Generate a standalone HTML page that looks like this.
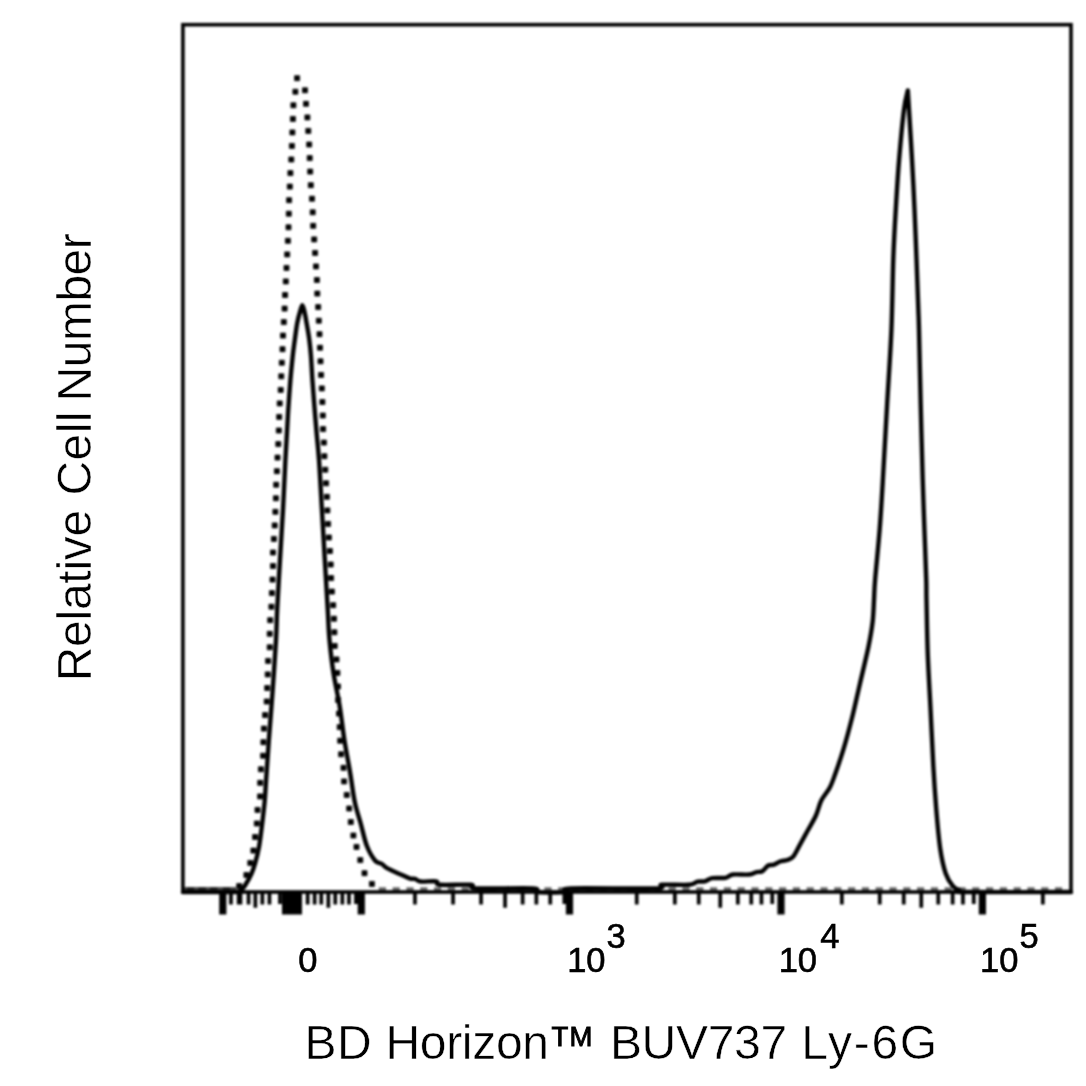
<!DOCTYPE html>
<html><head><meta charset="utf-8"><title>BD Horizon BUV737 Ly-6G</title>
<style>html,body{margin:0;padding:0;background:#fff;font-family:"Liberation Sans",sans-serif;}svg{display:block}</style>
</head><body>
<svg width="1086" height="1086" viewBox="0 0 1086 1086">
<defs><filter id="b" x="-2%" y="-2%" width="104%" height="104%"><feGaussianBlur stdDeviation="1.0"/></filter><filter id="t" x="-5%" y="-5%" width="110%" height="110%"><feGaussianBlur stdDeviation="0.75"/></filter></defs>
<rect width="1086" height="1086" fill="#fff"/>
<g filter="url(#b)">
<rect x="182.9" y="24.7" width="888.1" height="867.3" fill="none" stroke="#000" stroke-width="3.6"/>
<path d="M219.2,892.0h7.2v22.6h-7.2zM357.7,892.0h7.2v22.6h-7.2zM565.9,892.0h7.2v22.6h-7.2zM777.4,892.0h7.2v22.6h-7.2zM978.8,892.0h7.2v22.6h-7.2zM282.0,892.0h20.0v22.6h-20.0zM229.1,892.0h3.7v12.5h-3.7zM246.7,892.0h3.7v12.5h-3.7zM260.5,892.0h3.7v12.5h-3.7zM267.6,892.0h3.7v12.5h-3.7zM305.8,892.0h3.7v12.5h-3.7zM312.8,892.0h3.7v12.5h-3.7zM319.4,892.0h3.7v12.5h-3.7zM333.4,892.0h3.7v12.5h-3.7zM340.5,892.0h3.7v12.5h-3.7zM347.1,892.0h3.7v12.5h-3.7zM413.1,892.0h3.7v12.5h-3.7zM451.2,892.0h3.7v12.5h-3.7zM479.2,892.0h3.7v12.5h-3.7zM520.8,892.0h3.7v12.5h-3.7zM534.5,892.0h3.7v12.5h-3.7zM548.4,892.0h3.7v12.5h-3.7zM634.9,892.0h3.7v12.5h-3.7zM673.0,892.0h3.7v12.5h-3.7zM696.9,892.0h3.7v12.5h-3.7zM736.0,892.0h3.7v12.5h-3.7zM749.4,892.0h3.7v12.5h-3.7zM759.6,892.0h3.7v12.5h-3.7zM840.0,892.0h3.7v12.5h-3.7zM877.9,892.0h3.7v12.5h-3.7zM901.9,892.0h3.7v12.5h-3.7zM936.4,892.0h3.7v12.5h-3.7zM950.8,892.0h3.7v12.5h-3.7zM961.1,892.0h3.7v12.5h-3.7zM1041.0,892.0h3.7v12.5h-3.7zM236.8,892.0h5.5v12.5h-5.5zM253.5,892.0h3.7v15.8h-3.7zM326.5,892.0h3.7v15.8h-3.7zM503.2,892.0h3.7v15.8h-3.7zM718.4,892.0h3.7v15.8h-3.7zM919.4,892.0h3.7v15.8h-3.7zM354.1,892.0h3.7v12.0h-3.7zM562.5,892.0h3.7v12.0h-3.7zM770.4,892.0h3.7v12.0h-3.7zM971.9,892.0h3.7v12.0h-3.7zM278.1,892.0h3.7v12.0h-3.7z" fill="#000"/>
<path d="M183.0,892.0 C191.2,892.0 222.6,892.2 232.0,892.0 C241.4,891.8 237.8,891.6 239.5,891.0 C241.2,890.4 241.5,889.5 242.5,888.5 C243.5,887.5 243.8,887.4 245.3,885.0 C246.8,882.6 249.8,877.6 251.4,873.9 C253.1,870.2 253.9,867.5 255.2,862.9 C256.5,858.3 258.0,852.8 259.1,846.3 C260.2,839.8 261.2,831.6 262.1,824.2 C263.0,816.8 263.9,809.5 264.6,802.1 C265.3,794.7 265.4,790.4 266.1,780.0 C266.8,769.6 267.8,754.5 268.9,739.5 C270.0,724.5 271.5,706.3 272.7,689.7 C273.9,673.1 275.2,653.4 276.0,640.0 C276.8,626.6 276.5,622.6 277.2,609.2 C277.9,595.8 279.0,576.1 280.0,559.5 C281.0,542.9 282.1,526.3 283.0,509.7 C283.9,493.1 284.7,472.9 285.4,460.0 C286.1,447.1 286.5,440.7 287.0,432.0 C287.5,423.3 287.8,416.3 288.4,407.6 C289.0,398.9 289.7,388.6 290.4,380.0 C291.1,371.4 292.0,363.0 292.7,356.3 C293.4,349.6 294.1,345.2 294.8,339.7 C295.6,334.2 296.3,328.0 297.2,323.1 C298.1,318.2 299.5,313.5 300.4,310.5 C301.2,307.5 301.7,305.2 302.3,305.2 C302.9,305.2 303.5,307.5 304.2,310.5 C304.9,313.5 305.8,318.2 306.6,323.1 C307.5,328.0 308.6,334.2 309.3,339.7 C310.0,345.2 310.5,349.6 311.0,356.3 C311.5,363.0 311.8,371.4 312.4,380.0 C313.0,388.6 313.8,398.4 314.5,407.6 C315.2,416.8 316.1,426.5 316.8,435.2 C317.6,443.9 318.1,447.6 319.0,460.0 C319.9,472.4 320.9,493.1 321.9,509.7 C322.9,526.3 323.8,542.9 324.8,559.5 C325.8,576.1 326.9,595.8 327.7,609.2 C328.5,622.6 328.5,629.3 329.5,640.0 C330.5,650.7 331.8,662.2 333.5,673.2 C335.2,684.2 337.9,695.2 339.7,706.3 C341.5,717.3 342.6,728.5 344.3,739.5 C346.0,750.5 348.4,762.2 350.1,772.6 C351.9,783.0 353.0,793.5 354.8,802.1 C356.6,810.7 358.9,816.8 360.9,824.2 C362.9,831.6 364.6,840.2 367.0,846.3 C369.4,852.4 372.7,857.8 375.2,860.7 C377.7,863.7 379.9,862.7 381.9,864.0 C383.9,865.3 384.4,866.8 387.4,868.4 C390.3,870.0 395.9,872.2 399.6,873.9 C403.3,875.5 406.9,877.5 409.5,878.3 C412.1,879.1 413.1,878.4 415.0,878.9 C416.9,879.4 417.1,881.1 420.6,881.5 C424.1,881.9 432.8,880.8 436.0,881.3 C439.2,881.8 434.2,884.2 440.0,884.8 C445.8,885.4 465.0,884.2 471.0,884.8 C477.0,885.4 465.7,887.8 476.0,888.4 C486.3,889.0 522.8,887.8 533.0,888.4 C543.2,889.0 531.5,891.4 537.0,892.0 C542.5,892.6 560.3,892.6 566.0,892.0 C571.7,891.4 556.2,889.0 571.0,888.4 C585.8,887.8 639.8,889.0 655.0,888.4 C670.2,887.8 656.4,885.4 662.0,884.8 C667.6,884.2 682.7,885.3 688.6,884.8 C694.5,884.3 694.8,882.3 697.5,881.7 C700.2,881.1 702.3,881.9 704.8,881.3 C707.2,880.7 708.8,878.8 712.2,878.2 C715.7,877.6 722.1,878.4 725.5,877.8 C728.9,877.2 728.9,875.0 732.8,874.5 C736.7,874.0 745.1,874.9 749.0,874.5 C752.9,874.1 754.2,872.6 756.4,872.1 C758.6,871.6 760.3,872.4 762.3,871.3 C764.3,870.2 766.2,866.6 768.2,865.5 C770.2,864.4 772.1,865.4 774.1,864.7 C776.1,864.0 777.8,862.3 780.0,861.5 C782.2,860.7 785.1,860.8 787.3,860.0 C789.5,859.2 791.2,859.0 793.2,856.6 C795.2,854.2 796.9,850.2 799.3,845.9 C801.7,841.6 804.8,835.8 807.6,830.7 C810.4,825.6 813.6,820.6 815.9,815.5 C818.2,810.4 819.1,804.9 821.4,800.3 C823.7,795.7 827.4,792.2 829.7,787.8 C832.0,783.4 832.9,780.4 835.2,774.0 C837.5,767.6 840.7,758.4 843.5,749.2 C846.3,740.0 849.0,729.8 851.8,718.8 C854.6,707.8 857.3,694.9 860.1,682.9 C862.9,670.9 866.3,657.1 868.4,647.0 C870.5,636.9 871.7,629.9 872.6,622.1 C873.5,614.3 873.6,607.2 874.0,600.0 C874.4,592.8 874.2,590.5 875.2,578.6 C876.2,566.8 878.4,545.5 879.7,528.9 C881.0,512.3 881.7,499.9 882.9,479.2 C884.1,458.5 885.7,429.5 887.1,404.6 C888.5,379.7 890.4,354.3 891.4,330.0 C892.4,305.7 892.6,279.0 893.3,258.9 C894.0,238.8 894.8,225.8 895.8,209.2 C896.8,192.6 897.7,176.1 899.1,159.5 C900.5,142.9 902.5,121.2 904.0,109.7 C905.5,98.2 907.2,93.7 907.8,90.5 M907.8,90.5 C908.0,93.7 908.3,98.2 909.0,109.7 C909.7,121.2 911.1,142.9 912.0,159.5 C912.9,176.1 913.8,192.6 914.5,209.2 C915.2,225.8 915.9,242.3 916.5,258.9 C917.1,275.5 917.9,296.8 918.3,308.6 C918.7,320.5 918.6,314.0 919.0,330.0 C919.4,346.0 920.1,379.7 920.7,404.6 C921.3,429.5 922.1,458.5 922.7,479.2 C923.3,499.9 923.8,512.3 924.4,528.9 C925.0,545.5 925.9,566.8 926.2,578.6 C926.6,590.5 926.2,587.2 926.5,600.0 C926.8,612.8 927.1,636.8 927.8,655.2 C928.5,673.6 929.7,692.1 930.6,710.5 C931.5,728.9 932.4,749.6 933.3,765.7 C934.2,781.8 935.0,793.4 936.1,807.2 C937.2,821.0 938.6,837.6 940.2,848.6 C941.8,859.6 943.6,867.3 945.7,873.5 C947.8,879.7 950.4,883.1 952.7,885.9 C955.0,888.7 957.4,889.5 959.6,890.5 C961.8,891.5 947.4,891.8 966.0,892.0 C984.6,892.2 1053.5,892.0 1071.0,892.0" fill="none" stroke="#000" stroke-width="4.4" stroke-linejoin="miter" stroke-miterlimit="10" stroke-linecap="round"/>
<path d="M294.6,75.7h5.0v5.0h-5.0zM292.9,89.2h5.0v5.0h-5.0zM290.9,102.8h5.0v5.0h-5.0zM290.4,116.4h5.0v5.0h-5.0zM289.9,129.9h5.0v5.0h-5.0zM289.4,143.4h5.0v5.0h-5.0zM288.8,157.0h5.0v5.0h-5.0zM287.9,170.6h5.0v5.0h-5.0zM287.3,184.1h5.0v5.0h-5.0zM286.6,197.7h5.0v5.0h-5.0zM286.3,211.2h5.0v5.0h-5.0zM286.0,224.8h5.0v5.0h-5.0zM285.4,238.3h5.0v5.0h-5.0zM284.7,251.9h5.0v5.0h-5.0zM284.0,265.4h5.0v5.0h-5.0zM283.3,278.9h5.0v5.0h-5.0zM282.6,292.5h5.0v5.0h-5.0zM282.1,306.1h5.0v5.0h-5.0zM281.3,319.6h5.0v5.0h-5.0zM280.5,333.1h5.0v5.0h-5.0zM280.0,346.7h5.0v5.0h-5.0zM279.3,360.2h5.0v5.0h-5.0zM278.8,373.8h5.0v5.0h-5.0zM278.2,387.4h5.0v5.0h-5.0zM277.2,400.9h5.0v5.0h-5.0zM276.7,414.4h5.0v5.0h-5.0zM276.3,428.0h5.0v5.0h-5.0zM275.8,441.6h5.0v5.0h-5.0zM275.0,455.1h5.0v5.0h-5.0zM274.4,468.7h5.0v5.0h-5.0zM273.7,482.2h5.0v5.0h-5.0zM273.4,495.8h5.0v5.0h-5.0zM272.9,509.3h5.0v5.0h-5.0zM272.2,522.9h5.0v5.0h-5.0zM271.4,536.4h5.0v5.0h-5.0zM270.5,550.0h5.0v5.0h-5.0zM270.5,563.5h5.0v5.0h-5.0zM270.0,577.1h5.0v5.0h-5.0zM269.4,590.6h5.0v5.0h-5.0zM268.9,604.2h5.0v5.0h-5.0zM267.7,617.7h5.0v5.0h-5.0zM267.2,631.3h5.0v5.0h-5.0zM267.2,644.8h5.0v5.0h-5.0zM265.6,658.4h5.0v5.0h-5.0zM265.2,671.9h5.0v5.0h-5.0zM264.7,685.5h5.0v5.0h-5.0zM264.2,699.0h5.0v5.0h-5.0zM262.6,712.6h5.0v5.0h-5.0zM261.4,726.1h5.0v5.0h-5.0zM260.9,739.7h5.0v5.0h-5.0zM260.6,753.2h5.0v5.0h-5.0zM258.4,766.8h5.0v5.0h-5.0zM257.7,780.3h5.0v5.0h-5.0zM257.6,793.9h5.0v5.0h-5.0zM255.0,807.4h5.0v5.0h-5.0zM254.3,821.0h5.0v5.0h-5.0zM252.6,834.5h5.0v5.0h-5.0zM250.9,848.1h5.0v5.0h-5.0zM247.8,860.4h5.0v5.0h-5.0zM243.9,872.5h5.0v5.0h-5.0zM236.7,883.6h5.0v5.0h-5.0zM302.5,87.8h5.0v5.0h-5.0zM303.5,101.3h5.0v5.0h-5.0zM304.9,114.9h5.0v5.0h-5.0zM305.8,128.4h5.0v5.0h-5.0zM306.7,142.0h5.0v5.0h-5.0zM307.2,155.6h5.0v5.0h-5.0zM307.7,169.1h5.0v5.0h-5.0zM308.3,182.7h5.0v5.0h-5.0zM309.5,196.2h5.0v5.0h-5.0zM310.2,209.8h5.0v5.0h-5.0zM310.7,223.3h5.0v5.0h-5.0zM311.7,236.9h5.0v5.0h-5.0zM312.6,250.4h5.0v5.0h-5.0zM313.5,263.9h5.0v5.0h-5.0zM314.4,277.5h5.0v5.0h-5.0zM314.8,291.1h5.0v5.0h-5.0zM315.7,304.6h5.0v5.0h-5.0zM316.3,318.2h5.0v5.0h-5.0zM317.0,331.7h5.0v5.0h-5.0zM317.5,345.2h5.0v5.0h-5.0zM318.0,358.8h5.0v5.0h-5.0zM318.6,372.4h5.0v5.0h-5.0zM319.3,385.9h5.0v5.0h-5.0zM319.9,399.5h5.0v5.0h-5.0zM320.3,413.0h5.0v5.0h-5.0zM320.6,426.6h5.0v5.0h-5.0zM321.4,440.1h5.0v5.0h-5.0zM321.9,453.7h5.0v5.0h-5.0zM322.8,467.2h5.0v5.0h-5.0zM323.6,480.8h5.0v5.0h-5.0zM324.4,494.3h5.0v5.0h-5.0zM324.9,507.9h5.0v5.0h-5.0zM325.6,521.4h5.0v5.0h-5.0zM326.4,535.0h5.0v5.0h-5.0zM327.4,548.5h5.0v5.0h-5.0zM328.2,562.0h5.0v5.0h-5.0zM328.6,575.6h5.0v5.0h-5.0zM329.4,589.1h5.0v5.0h-5.0zM330.7,602.7h5.0v5.0h-5.0zM331.5,616.2h5.0v5.0h-5.0zM331.9,629.8h5.0v5.0h-5.0zM332.2,643.4h5.0v5.0h-5.0zM334.0,656.9h5.0v5.0h-5.0zM334.9,670.4h5.0v5.0h-5.0zM335.5,684.0h5.0v5.0h-5.0zM335.6,697.5h5.0v5.0h-5.0zM336.5,711.1h5.0v5.0h-5.0zM337.2,724.6h5.0v5.0h-5.0zM337.7,738.2h5.0v5.0h-5.0zM338.6,751.8h5.0v5.0h-5.0zM341.0,765.3h5.0v5.0h-5.0zM341.6,778.9h5.0v5.0h-5.0zM344.2,792.4h5.0v5.0h-5.0zM346.7,806.0h5.0v5.0h-5.0zM348.3,819.5h5.0v5.0h-5.0zM350.9,833.0h5.0v5.0h-5.0zM354.0,844.4h5.0v5.0h-5.0zM357.8,857.6h5.0v5.0h-5.0zM362.0,870.7h5.0v5.0h-5.0zM369.4,881.4h5.0v5.0h-5.0z" fill="#000" stroke="#000" stroke-width="0.8" stroke-linejoin="round"/>
<path d="M378.8,887.2h7.2v4h-7.2zM392.6,887.2h7.2v4h-7.2zM406.4,887.2h7.2v4h-7.2zM420.2,887.2h7.2v4h-7.2zM434.0,887.2h7.2v4h-7.2zM447.8,887.2h7.2v4h-7.2zM461.6,887.2h7.2v4h-7.2zM475.4,887.2h7.2v4h-7.2zM489.2,887.2h7.2v4h-7.2zM503.0,887.2h7.2v4h-7.2zM516.8,887.2h7.2v4h-7.2zM530.6,887.2h7.2v4h-7.2zM544.4,887.2h7.2v4h-7.2zM558.2,887.2h7.2v4h-7.2zM572.0,887.2h7.2v4h-7.2zM585.8,887.2h7.2v4h-7.2zM599.6,887.2h7.2v4h-7.2zM613.4,887.2h7.2v4h-7.2zM627.2,887.2h7.2v4h-7.2zM641.0,887.2h7.2v4h-7.2zM654.8,887.2h7.2v4h-7.2zM668.6,887.2h7.2v4h-7.2zM682.4,887.2h7.2v4h-7.2zM696.2,887.2h7.2v4h-7.2zM710.0,887.2h7.2v4h-7.2zM723.8,887.2h7.2v4h-7.2zM737.6,887.2h7.2v4h-7.2zM751.4,887.2h7.2v4h-7.2zM765.2,887.2h7.2v4h-7.2zM779.0,887.2h7.2v4h-7.2zM792.8,887.2h7.2v4h-7.2zM806.6,887.2h7.2v4h-7.2zM820.4,887.2h7.2v4h-7.2zM834.2,887.2h7.2v4h-7.2zM848.0,887.2h7.2v4h-7.2zM861.8,887.2h7.2v4h-7.2zM875.6,887.2h7.2v4h-7.2zM889.4,887.2h7.2v4h-7.2zM903.2,887.2h7.2v4h-7.2zM917.0,887.2h7.2v4h-7.2zM930.8,887.2h7.2v4h-7.2zM944.6,887.2h7.2v4h-7.2zM958.4,887.2h7.2v4h-7.2zM972.2,887.2h7.2v4h-7.2zM986.0,887.2h7.2v4h-7.2zM999.8,887.2h7.2v4h-7.2zM1013.6,887.2h7.2v4h-7.2zM1027.4,887.2h7.2v4h-7.2zM1041.2,887.2h7.2v4h-7.2zM1055.0,887.2h7.2v4h-7.2zM198.6,887.2h7.2v4h-7.2zM210.2,887.2h7.2v4h-7.2zM222.9,887.2h7.2v4h-7.2zM186.9,887.2h7.2v4h-7.2z" fill="#000" opacity="0.6"/>
<path d="M184,888.7H236" stroke="#000" stroke-width="3.2" opacity="0.7"/>
</g>
<g filter="url(#t)" font-family="Liberation Sans, sans-serif" fill="#000">
<g stroke="#000" stroke-width="0.6">
<text x="298.3" y="971.8" font-size="34.5">0</text>
<text x="567.2" y="971.8" font-size="34.5">10</text>
<text x="606.4" y="948.3" font-size="34.5">3</text>
<text x="778.7" y="971.8" font-size="34.5">10</text>
<text x="820.2" y="948.3" font-size="34.5">4</text>
<text x="980.1" y="971.8" font-size="34.5">10</text>
<text x="1019.6" y="948.3" font-size="34.5">5</text>
</g><g stroke="#fff" stroke-width="0.5">
<text x="304.60" y="1059.2" font-size="48" textLength="67.10" lengthAdjust="spacing">BD</text>
<text x="385.40" y="1059.2" font-size="48" textLength="163.60" lengthAdjust="spacing">Horizon</text>
<text x="609.90" y="1059.2" font-size="48" textLength="177.20" lengthAdjust="spacing">BUV737</text>
<text x="801.30" y="1059.2" font-size="48" textLength="135.90" lengthAdjust="spacing">Ly-6G</text>
<text x="551.60" y="1046" font-size="27.5" stroke="#000" stroke-width="0.9" textLength="40.90" lengthAdjust="spacing">TM</text>
<text transform="translate(91.4,678.5) rotate(-90)" x="-2.80" y="0" font-size="48" textLength="171.60" lengthAdjust="spacing">Relative</text>
<text transform="translate(91.4,678.5) rotate(-90)" x="183.00" y="0" font-size="48" textLength="83.90" lengthAdjust="spacing">Cell</text>
<text transform="translate(91.4,678.5) rotate(-90)" x="277.10" y="0" font-size="48" textLength="168.20" lengthAdjust="spacing">Number</text>
</g></g></svg>
</body></html>
